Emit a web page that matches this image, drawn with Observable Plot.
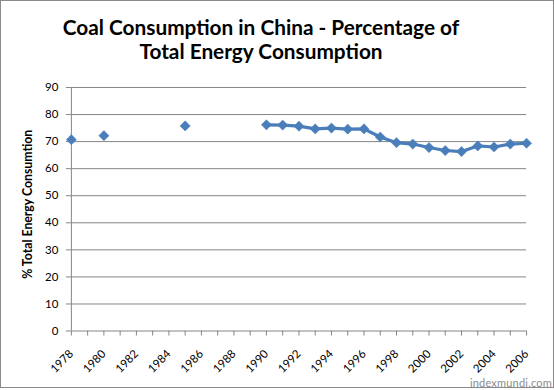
<!DOCTYPE html>
<html>
<head>
<meta charset="utf-8">
<script src="https://cdn.jsdelivr.net/npm/d3@7"></script>
<script src="https://cdn.jsdelivr.net/npm/@observablehq/plot@0.6"></script>
<style>
  html, body { margin: 0; padding: 0; background: #fff; }
  #frame { position: relative; width: 552px; height: 386px; border: 1px solid #8a8a8a; background: #fff; overflow: hidden; font-family: Lato, "Open Sans", sans-serif; }
  #title { position: absolute; left: 0; top: 14px; width: 520px; text-align: center; font-weight: bold; font-size: 20.8px; line-height: 24px; color: #000; }
  #chart { position: absolute; left: -1px; top: 74px; }
  #wm { position: absolute; right: 1px; bottom: -2px; font-size: 11px; color: #8c8c8c; letter-spacing: 0.2px; }
</style>
</head>
<body>
<div id="frame">
  <div id="title">Coal Consumption in China - Percentage of<br>Total Energy Consumption</div>
  <div id="chart"></div>
  <div id="wm">indexmundi.com</div>
</div>
<script>
const years = [1978, 1980, 1985, 1990, 1991, 1992, 1993, 1994, 1995, 1996, 1997, 1998, 1999, 2000, 2001, 2002, 2003, 2004, 2005, 2006];
const coalShare = [70.7, 72.2, 75.8, 76.2, 76.1, 75.7, 74.7, 75.0, 74.6, 74.7, 71.7, 69.6, 69.1, 67.8, 66.7, 66.3, 68.4, 68.0, 69.1, 69.4];
const yTicks = [0, 10, 20, 30, 40, 50, 60, 70, 80, 90];
const xLabelYears = [1978, 1980, 1982, 1984, 1986, 1988, 1990, 1992, 1994, 1996, 1998, 2000, 2002, 2004, 2006];
const yLabel = "% Total Energy Consumtion";

// full yearly series with gaps (null) so the line breaks where data is missing
const allYears = d3.range(1978, 2007);
const byYear = new Map(years.map((y, i) => [y, coalShare[i]]));
const series = allYears.map(y => ({year: y, value: byYear.has(y) ? byYear.get(y) : null}));
const points = years.map((y, i) => ({year: y, value: coalShare[i]}));

const blue = "#4A7EBB";
const grid = "#868686";

const plot = Plot.plot({
  width: 554,
  height: 316,
  marginLeft: 71,
  marginRight: 27,
  marginTop: 12,
  marginBottom: 60,
  style: {fontFamily: "Lato, 'Open Sans', sans-serif", fontSize: "11px", color: "#000", background: "transparent"},
  x: {type: "linear", domain: [1978, 2006]},
  y: {domain: [0, 90]},
  marks: [
    Plot.ruleY(yTicks.filter(d => d > 0), {stroke: grid, strokeWidth: 1, strokeOpacity: 1}),
    Plot.axisY({ticks: yTicks, tickSize: 5, tickPadding: 8, stroke: grid, label: null, fontSize: 11.5, color: "#000"}),
    Plot.axisX({ticks: allYears, tickSize: 5, tickFormat: () => "", stroke: grid, label: null}),
    Plot.axisX({ticks: xLabelYears, tickSize: 0, tickPadding: 21, tickRotate: -45, tickFormat: d => String(d), label: null, fontSize: 11.5}),
    Plot.ruleX([1978], {stroke: grid}),
    Plot.ruleY([0], {stroke: grid}),
    Plot.line(series, {x: "year", y: "value", stroke: blue, strokeWidth: 3.2}),
    Plot.dot(points, {x: "year", y: "value", symbol: "diamond2", r: 4.6, fill: blue, stroke: blue, strokeWidth: 0.5}),
    Plot.text([yLabel], {frameAnchor: "left", textAnchor: "middle", dx: -43, dy: -5, rotate: -90, text: d => d, fontWeight: "bold", fontSize: 12.3, fill: "#000"})
  ]
});
document.getElementById("chart").appendChild(plot);
</script>
</body>
</html>
